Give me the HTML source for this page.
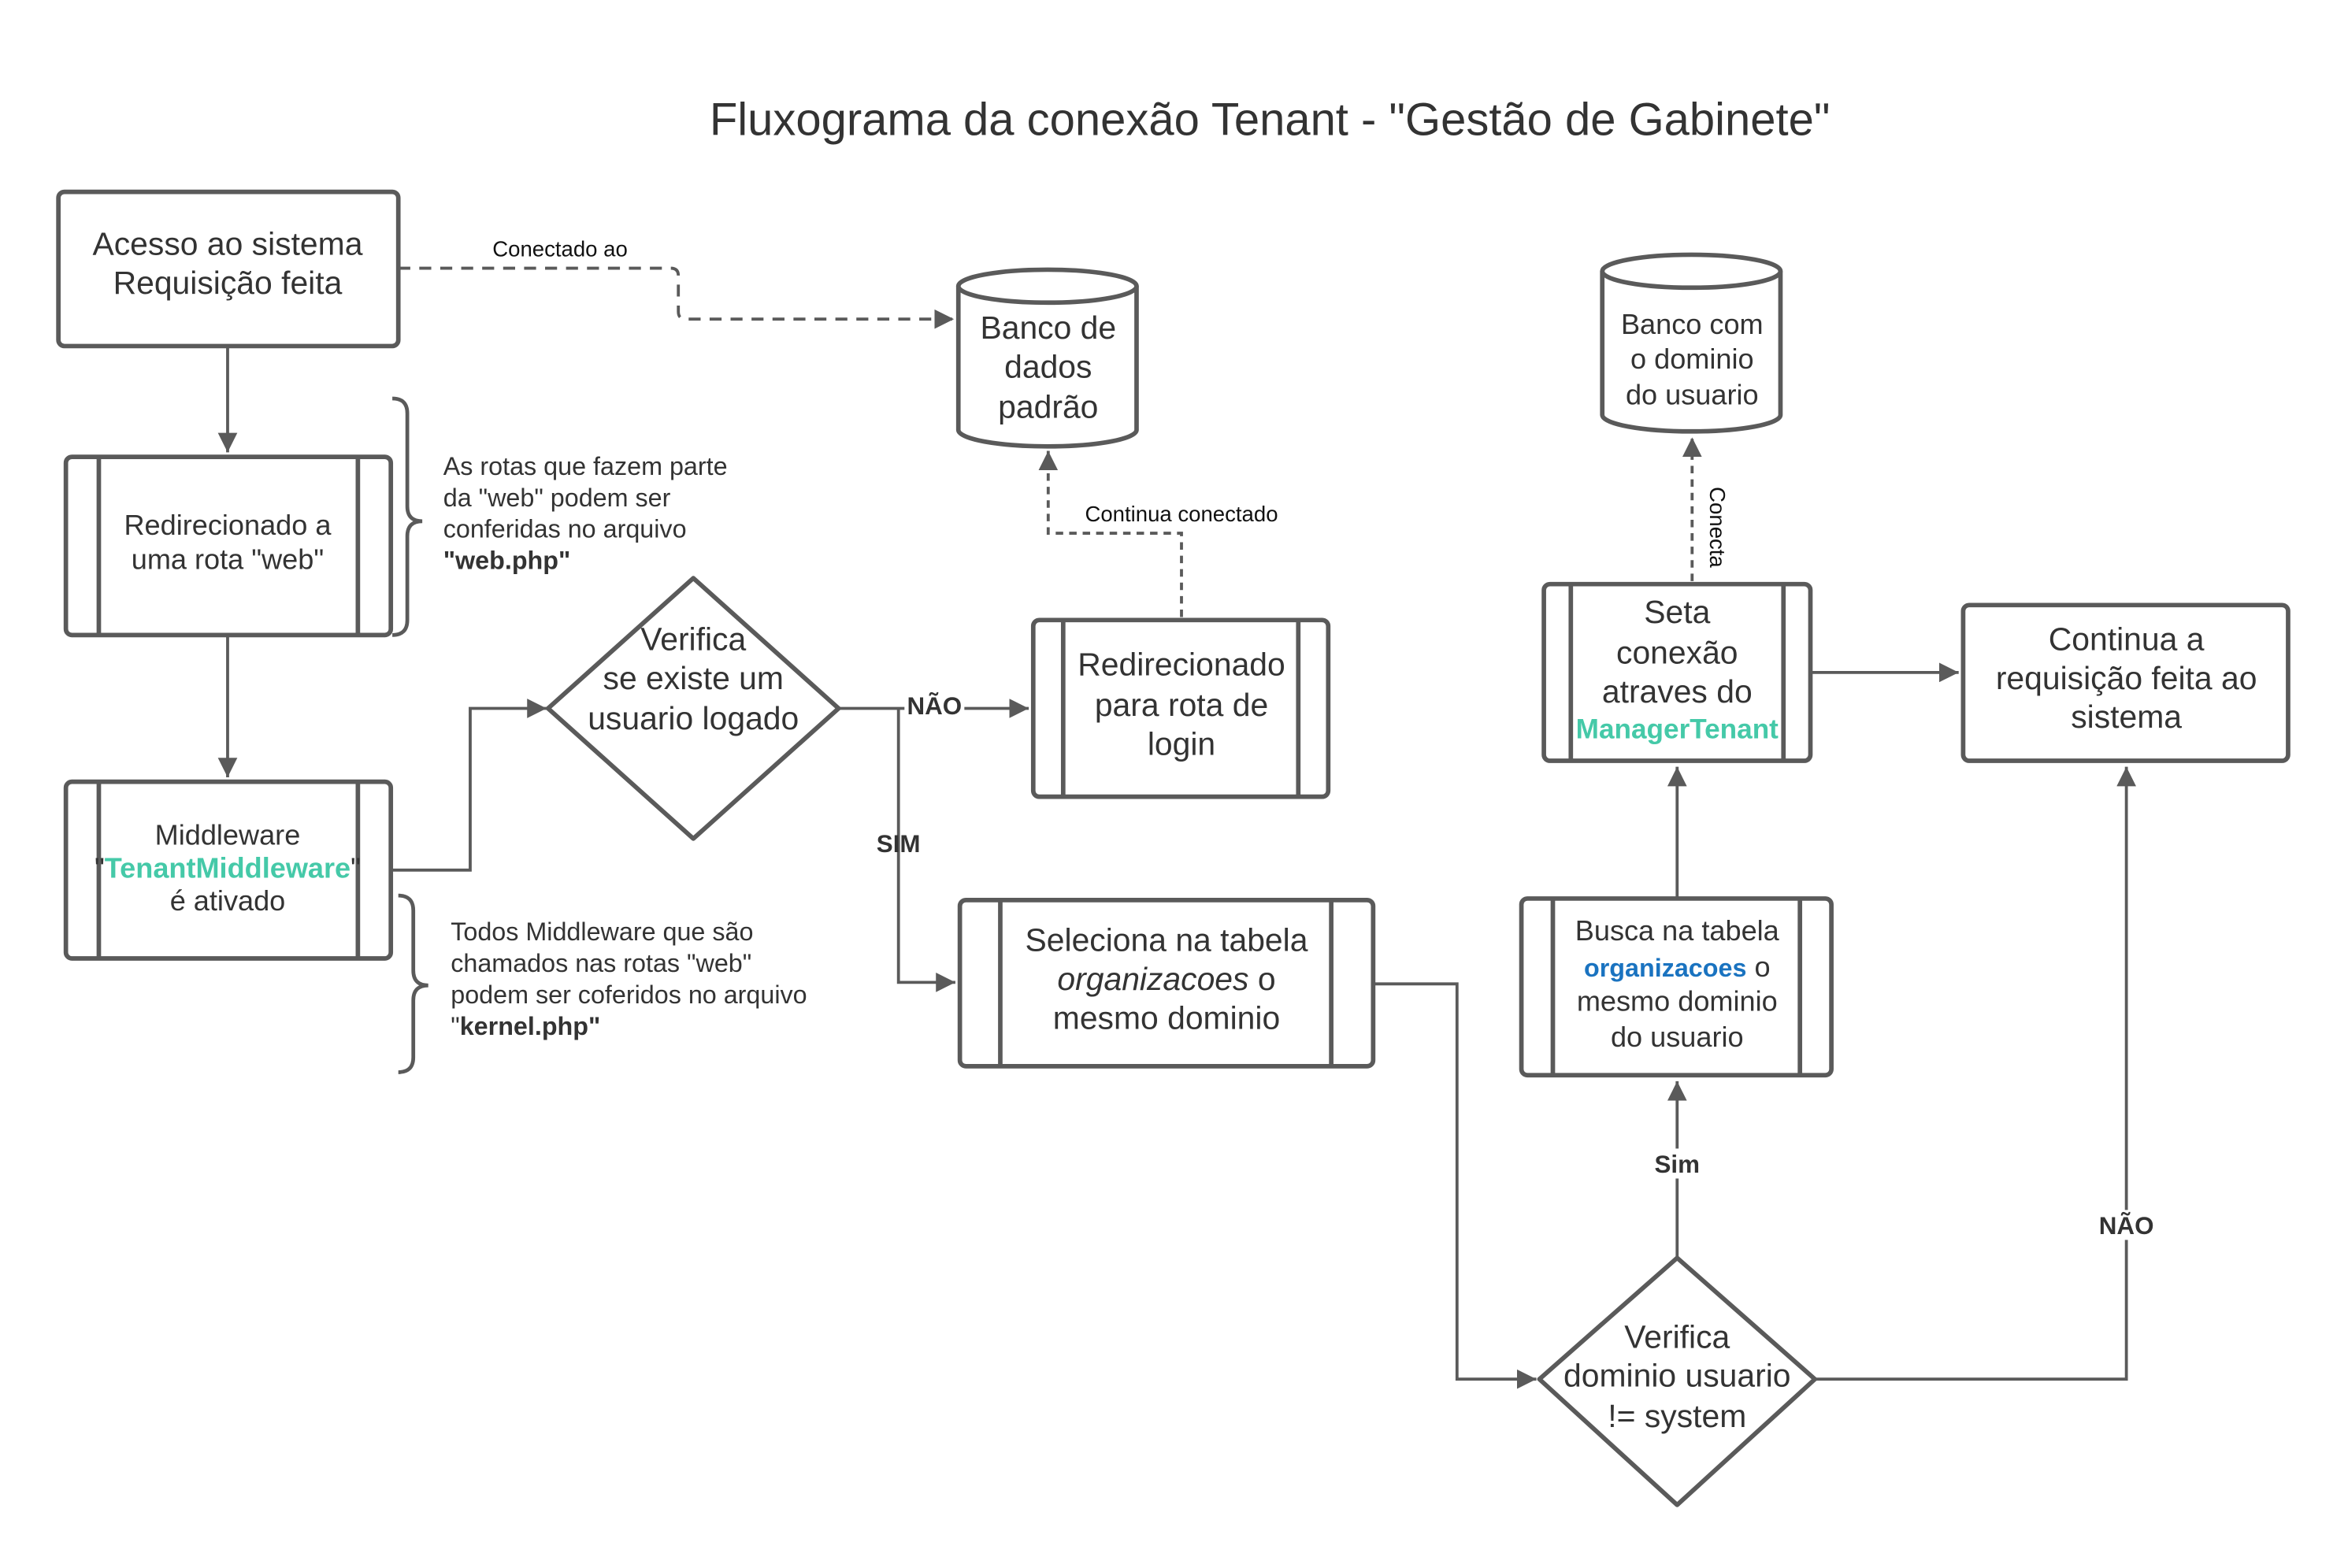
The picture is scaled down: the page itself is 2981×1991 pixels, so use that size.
<!DOCTYPE html>
<html><head><meta charset="utf-8"><style>html,body{margin:0;padding:0;background:#fff}svg{display:block}</style></head><body>
<svg width="2981" height="1991" viewBox="0 0 1568 1047" xmlns="http://www.w3.org/2000/svg" font-family="Liberation Sans, sans-serif" fill="#333">
<defs><marker id="a" viewBox="0 0 10 10" refX="10" refY="5" markerWidth="6.5" markerHeight="6.5" orient="auto-start-reverse"><path d="M0,0L10,5L0,10z" fill="#5a5a5a"/></marker></defs>
<rect width="1568" height="1047" fill="#fff"/>
<text x="848" y="90" font-size="30.5" text-anchor="middle">Fluxograma da conexão Tenant - "Gestão de Gabinete"</text>
<g fill="none" stroke="#5a5a5a" stroke-width="3">
<rect x="39" y="128" width="227" height="103" rx="4"/>
<rect x="44" y="305" width="217" height="119" rx="4"/><path d="M66 305V424M239 305V424"/>
<rect x="44" y="522" width="217" height="118" rx="4"/><path d="M66 522V640M239 522V640"/>
<path d="M463 386L560 473L463 560L366 473Z" stroke-linejoin="round"/>
<rect x="690" y="414" width="197" height="118" rx="4"/><path d="M710 414V532M867 414V532"/>
<rect x="641" y="601" width="276" height="111" rx="4"/><path d="M668 601V712M889 601V712"/>
<path d="M1120 840L1212 921L1120 1005L1028 921Z" stroke-linejoin="round"/>
<rect x="1016" y="600" width="207" height="118" rx="4"/><path d="M1037 600V718M1202 600V718"/>
<rect x="1031" y="390" width="178" height="118" rx="4"/><path d="M1049 390V508M1191 390V508"/>
<rect x="1311" y="404" width="217" height="104" rx="4"/>
<path d="M640 191V287A59.5 11 0 0 0 759 287V191"/><ellipse cx="699.5" cy="191" rx="59.5" ry="11"/>
<path d="M1070 181V277A59.5 11 0 0 0 1189 277V181"/><ellipse cx="1129.5" cy="181" rx="59.5" ry="11"/>
<path d="M262 266q10 0 10 10v62q0 10 10 10q-10 0 -10 10v56q0 10 -10 10" stroke-width="2.5"/>
<path d="M266 598q10 0 10 10v40q0 10 10 10q-10 0 -10 10v38q0 10 -10 10" stroke-width="2.5"/>
</g>
<g fill="none" stroke="#5a5a5a" stroke-width="2">
<path d="M266 179H448q5 0 5 5v24q0 5 5 5H637" stroke-dasharray="8,6" marker-end="url(#a)"/>
<path d="M789 412V356H700V301" stroke-dasharray="5,4" marker-end="url(#a)"/>
<path d="M1130 388V292" stroke-dasharray="5,4" marker-end="url(#a)"/>
<path d="M152 231V302" marker-end="url(#a)"/>
<path d="M152 424V519" marker-end="url(#a)"/>
<path d="M261 581H314V473H365" marker-end="url(#a)"/>
<path d="M560 473H687" marker-end="url(#a)"/>
<path d="M600 473V656H638" marker-end="url(#a)"/>
<path d="M917 657H973V921H1026" marker-end="url(#a)"/>
<path d="M1120 840V722" marker-end="url(#a)"/>
<path d="M1120 600V512" marker-end="url(#a)"/>
<path d="M1209 449H1308" marker-end="url(#a)"/>
<path d="M1212 921H1420V512" marker-end="url(#a)"/>
</g>
<g text-anchor="middle" font-size="21.5">
<text x="152" y="170">Acesso ao sistema</text><text x="152" y="196">Requisição feita</text>
<text x="700" y="226">Banco de</text><text x="700" y="252">dados</text><text x="700" y="279">padrão</text>
<text x="463" y="434">Verifica</text><text x="463" y="460">se existe um</text><text x="463" y="487">usuario logado</text>
<text x="789" y="451">Redirecionado</text><text x="789" y="478">para rota  de</text><text x="789" y="504">login</text>
<text x="779" y="635">Seleciona na tabela</text><text x="779" y="661"><tspan font-style="italic">organizacoes</tspan> o</text><text x="779" y="687">mesmo dominio</text>
<text x="1120" y="900">Verifica</text><text x="1120" y="926">dominio usuario</text><text x="1120" y="953">!= system</text>
<text x="1120" y="416">Seta</text><text x="1120" y="443">conexão</text><text x="1120" y="469">atraves do</text>
<text x="1120" y="493" font-size="18.5" font-weight="bold" fill="#45c9a8">ManagerTenant</text>
<text x="1420" y="434">Continua a</text><text x="1420" y="460">requisição feita ao</text><text x="1420" y="486">sistema</text>
</g>
<g text-anchor="middle" font-size="19">
<text x="1130" y="223">Banco com</text><text x="1130" y="246">o dominio</text><text x="1130" y="270">do usuario</text>
<text x="152" y="357">Redirecionado a</text><text x="152" y="380">uma rota "web"</text>
<text x="152" y="564">Middleware</text>
<text x="152" y="586">"<tspan font-weight="bold" fill="#45c9a8">TenantMiddleware</tspan>"</text>
<text x="152" y="608">é ativado</text>
<text x="1120" y="628">Busca na tabela</text>
<text x="1120" y="652"><tspan font-weight="bold" fill="#1a73c0" font-size="17">organizacoes</tspan> o</text>
<text x="1120" y="675">mesmo dominio</text><text x="1120" y="699">do usuario</text>
</g>
<g font-size="17">
<text x="296" y="317">As rotas que fazem parte</text><text x="296" y="338">da "web" podem ser</text><text x="296" y="359">conferidas no arquivo</text><text x="296" y="380" font-weight="bold">"web.php"</text>
<text x="301" y="628">Todos Middleware que são</text><text x="301" y="649">chamados nas rotas "web"</text><text x="301" y="670">podem ser coferidos no arquivo</text><text x="301" y="691">"<tspan font-weight="bold">kernel.php"</tspan></text>
</g>
<g font-size="14.5" fill="#111" text-anchor="middle">
<text x="374" y="171">Conectado ao</text>
<text x="789" y="348">Continua conectado</text>
<text transform="translate(1142,352) rotate(90)">Conecta</text>
</g>
<g font-size="16.5" font-weight="bold" text-anchor="middle">
<rect x="604" y="462" width="40" height="18" fill="#fff"/><text x="624" y="477">NÃO</text>
<text x="600" y="569">SIM</text>
<rect x="1100" y="767" width="40" height="20" fill="#fff"/><text x="1120" y="783">Sim</text>
<rect x="1398" y="808" width="44" height="20" fill="#fff"/><text x="1420" y="824">NÃO</text>
</g>
</svg>
</body></html>
